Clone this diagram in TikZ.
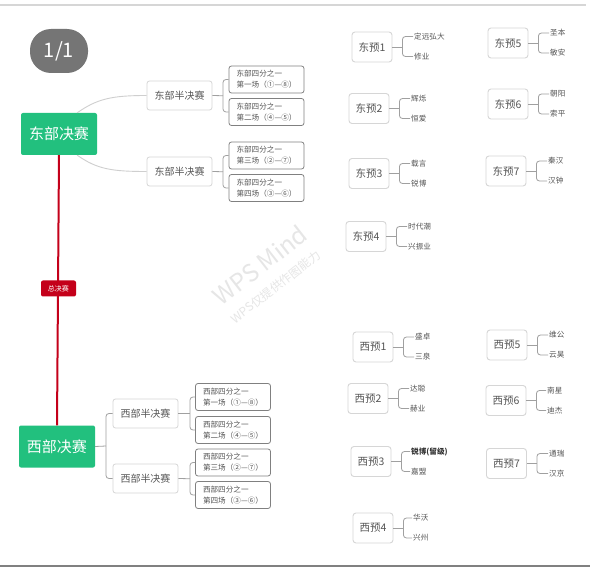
\documentclass[tikz,border=0pt]{standalone}
\usepackage{fontspec}
\setmainfont{Noto Sans CJK SC}
\usetikzlibrary{calc}
\definecolor{mgreen}{HTML}{22C07E}
\definecolor{mred}{HTML}{C4001A}
\definecolor{boxgray}{HTML}{D6D6D6}
\definecolor{qgray}{HTML}{808080}
\definecolor{txtgray}{HTML}{555555}
\definecolor{lngray}{HTML}{A0A0A0}
\definecolor{curvegray}{HTML}{CFCFCF}
\definecolor{pillgray}{HTML}{757575}
\definecolor{wmgray}{HTML}{E6E6E6}
\begin{document}
\begin{tikzpicture}[x=1pt,y=-1pt,
  final/.style={fill=mgreen, text=white, rounded corners=2, minimum width=76, minimum height=42, inner sep=0, font=\fontsize{15}{18}\selectfont},
  semi/.style={draw=boxgray, line width=0.8, fill=white, rounded corners=2.5, minimum width=65, minimum height=29, inner sep=0, text=txtgray, font=\fontsize{10}{12}\selectfont},
  quarter/.style={draw=qgray, line width=0.8, fill=white, rounded corners=2.5, minimum width=75, minimum height=27, inner sep=0, align=left, text=txtgray, font=\fontsize{7.6}{11}\selectfont},
  pre/.style={draw=boxgray, line width=0.9, fill=white, rounded corners=3, minimum width=40, minimum height=30, inner sep=0, text=txtgray, font=\fontsize{10.5}{12}\selectfont},
  team/.style={anchor=west, inner sep=1, text=txtgray, font=\fontsize{7.6}{9}\selectfont},
  conn/.style={draw=lngray, line width=0.8},
  bconn/.style={draw=lngray, line width=0.8, rounded corners=3},
  curve/.style={draw=curvegray, line width=0.9},
  wm/.style={text=wmgray, rotate=38, inner sep=0, align=left}
]
\useasboundingbox (0,0) rectangle (590,567);
\fill[white] (0,0) rectangle (590,567);
\draw[draw=boxgray, line width=1.2] (0,5) -- (586,5);
\draw[draw=qgray, line width=2] (0,565.5) -- (590,565.5);

% watermark
\node[wm, font=\fontsize{24}{22}\selectfont] (wm) at (267,274) {WPS Mind\\{\fontsize{12}{14}\selectfont WPS仅提供作图能力}};

% page pill
\node[fill=pillgray, text=white, rounded corners=21, minimum width=58, minimum height=44, inner sep=0, font=\fontsize{20}{22}\selectfont] (pill) at (59,51) {1/1};

% finals
\node[final] (ef) at (59,134) {东部决赛};
\node[final] (wf) at (57,446.5) {西部决赛};
\draw[draw=mred, line width=2] (ef.south) -- (wf.north);
\node[fill=mred, text=white, rounded corners=2, minimum width=35, minimum height=16, inner sep=0, font=\fontsize{7}{8}\selectfont] (gf) at (58.5,288.5) {总决赛};

% east semis
\node[semi] (es1) at (179.5,95.5) {东部半决赛};
\node[semi] (es2) at (179.5,171.5) {东部半决赛};
\coordinate (efa) at ($(ef.north east)+(-20,0)$);
\coordinate (efb) at ($(ef.south east)+(-20,0)$);
\draw[curve] (efa) .. controls +(20,-14) and +(-35,0) .. (es1.west);
\draw[curve] (efb) .. controls +(20,14) and +(-35,0) .. (es2.west);

% east quarters
\node[quarter] (eq1) at (266.5,79.5) {东部四分之一\\第一场（①—⑧）};
\node[quarter] (eq2) at (266.5,112) {东部四分之一\\第二场（④—⑤）};
\node[quarter] (eq3) at (266.5,155.5) {东部四分之一\\第三场（②—⑦）};
\node[quarter] (eq4) at (266.5,188) {东部四分之一\\第四场（③—⑥）};
\coordinate (be1) at (223,95.75);
\coordinate (be2) at (223,171.75);
\draw[conn] (es1.east) -- (be1);
\draw[bconn] (eq1.west) -| (be1) |- (eq2.west);
\draw[conn] (es2.east) -- (be2);
\draw[bconn] (eq3.west) -| (be2) |- (eq4.west);

% west semis
\node[semi] (ws1) at (145.5,413.5) {西部半决赛};
\node[semi] (ws2) at (145.5,478.5) {西部半决赛};
\coordinate (bw0) at (106,446);
\draw[conn] (wf.east) -- (bw0);
\draw[bconn] (ws1.west) -| (bw0) |- (ws2.west);

% west quarters
\node[quarter] (wq1) at (233,397) {西部四分之一\\第一场（①—⑧）};
\node[quarter] (wq2) at (233,430) {西部四分之一\\第二场（④—⑤）};
\node[quarter] (wq3) at (233,462.5) {西部四分之一\\第三场（②—⑦）};
\node[quarter] (wq4) at (233,495) {西部四分之一\\第四场（③—⑥）};
\coordinate (bw1) at (190,413.5);
\coordinate (bw2) at (190,478.75);
\draw[conn] (ws1.east) -- (bw1);
\draw[bconn] (wq1.west) -| (bw1) |- (wq2.west);
\draw[conn] (ws2.east) -- (bw2);
\draw[bconn] (wq3.west) -| (bw2) |- (wq4.west);

% group macro: name, center, label, team1 y, team2 y, team x, t1, t2
\newcommand\grp[8]{%
  \node[pre] (#1) at (#2) {#3};
  \node[team] (#1a) at (#6,#4) {#7};
  \node[team] (#1b) at (#6,#5) {#8};
  \coordinate (#1j) at ($(#1.east)+(10,0)$);
  \draw[conn] (#1.east) -- (#1j);
  \draw[bconn] (#1a.west) -| (#1j) |- (#1b.west);
}

% east groups
\grp{ey1}{372,47}{东预1}{36.5}{56.5}{413}{定远弘大}{修业}
\grp{ey2}{369,108.5}{东预2}{98.5}{118.5}{410}{辉烁}{恒爱}
\grp{ey3}{369,173.5}{东预3}{163.5}{183.5}{410}{载言}{锐博}
\grp{ey4}{366,236.5}{东预4}{226.5}{246.5}{407}{时代潮}{兴振业}
\grp{ey5}{508,43}{东预5}{33}{53}{549}{圣本}{敏安}
\grp{ey6}{508,104}{东预6}{94}{114}{549}{朝阳}{索平}
\grp{ey7}{506,171}{东预7}{161}{181}{547}{秦汉}{汉钟}

% west groups
\grp{wy1}{373,347}{西预1}{337}{357}{414}{盛卓}{三泉}
\grp{wy2}{368,398.5}{西预2}{388.5}{408.5}{409}{达聪}{赫业}
\grp{wy3}{371,461.5}{西预3}{451.5}{471.5}{410}{\textbf{\color{black!80}锐博(留级)}}{嘉盟}
\grp{wy4}{373,528}{西预4}{518}{538}{412}{华沃}{兴州}
\grp{wy5}{507,345}{西预5}{335}{355}{548}{维公}{云昊}
\grp{wy6}{506,400.5}{西预6}{390.5}{410.5}{546}{南星}{迪杰}
\grp{wy7}{506.5,463.5}{西预7}{453.5}{473.5}{548}{通瑞}{汉京}
\end{tikzpicture}
\end{document}
